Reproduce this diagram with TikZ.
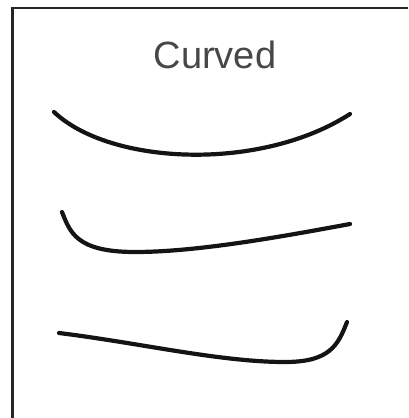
\documentclass[tikz,border=0pt]{standalone}
\usepackage{fontspec}
\setmainfont{Liberation Sans}
\usepackage{tikz}

\begin{document}
\begin{tikzpicture}[x=1pt,y=-1pt]
        %枠と見出し
        \useasboundingbox (0,0) rectangle (408,418);
        \draw[line width=2.2pt,black!85] (12.5,418)--(12.5,8)--(408,8);
        \node[text=black!72,font=\fontsize{38}{44}\selectfont,anchor=base] (title) at (215,68) {Curved};
        %曲線（太さは line width で指定）
        \draw[line width=4.2pt,black!92,line cap=round] (54,112) .. controls (110,165) and (260,172) .. (350,114);
        \draw[line width=4.2pt,black!92,line cap=round] (62,212) .. controls (70,232) and (76,252) .. (135,252) .. controls (200,252) and (290,235) .. (350,224);
        \draw[line width=4.2pt,black!92,line cap=round] (59,333) .. controls (140,343) and (220,362) .. (285,362) .. controls (330,362) and (338,345) .. (347,322);
    \end{tikzpicture}
\end{document}
